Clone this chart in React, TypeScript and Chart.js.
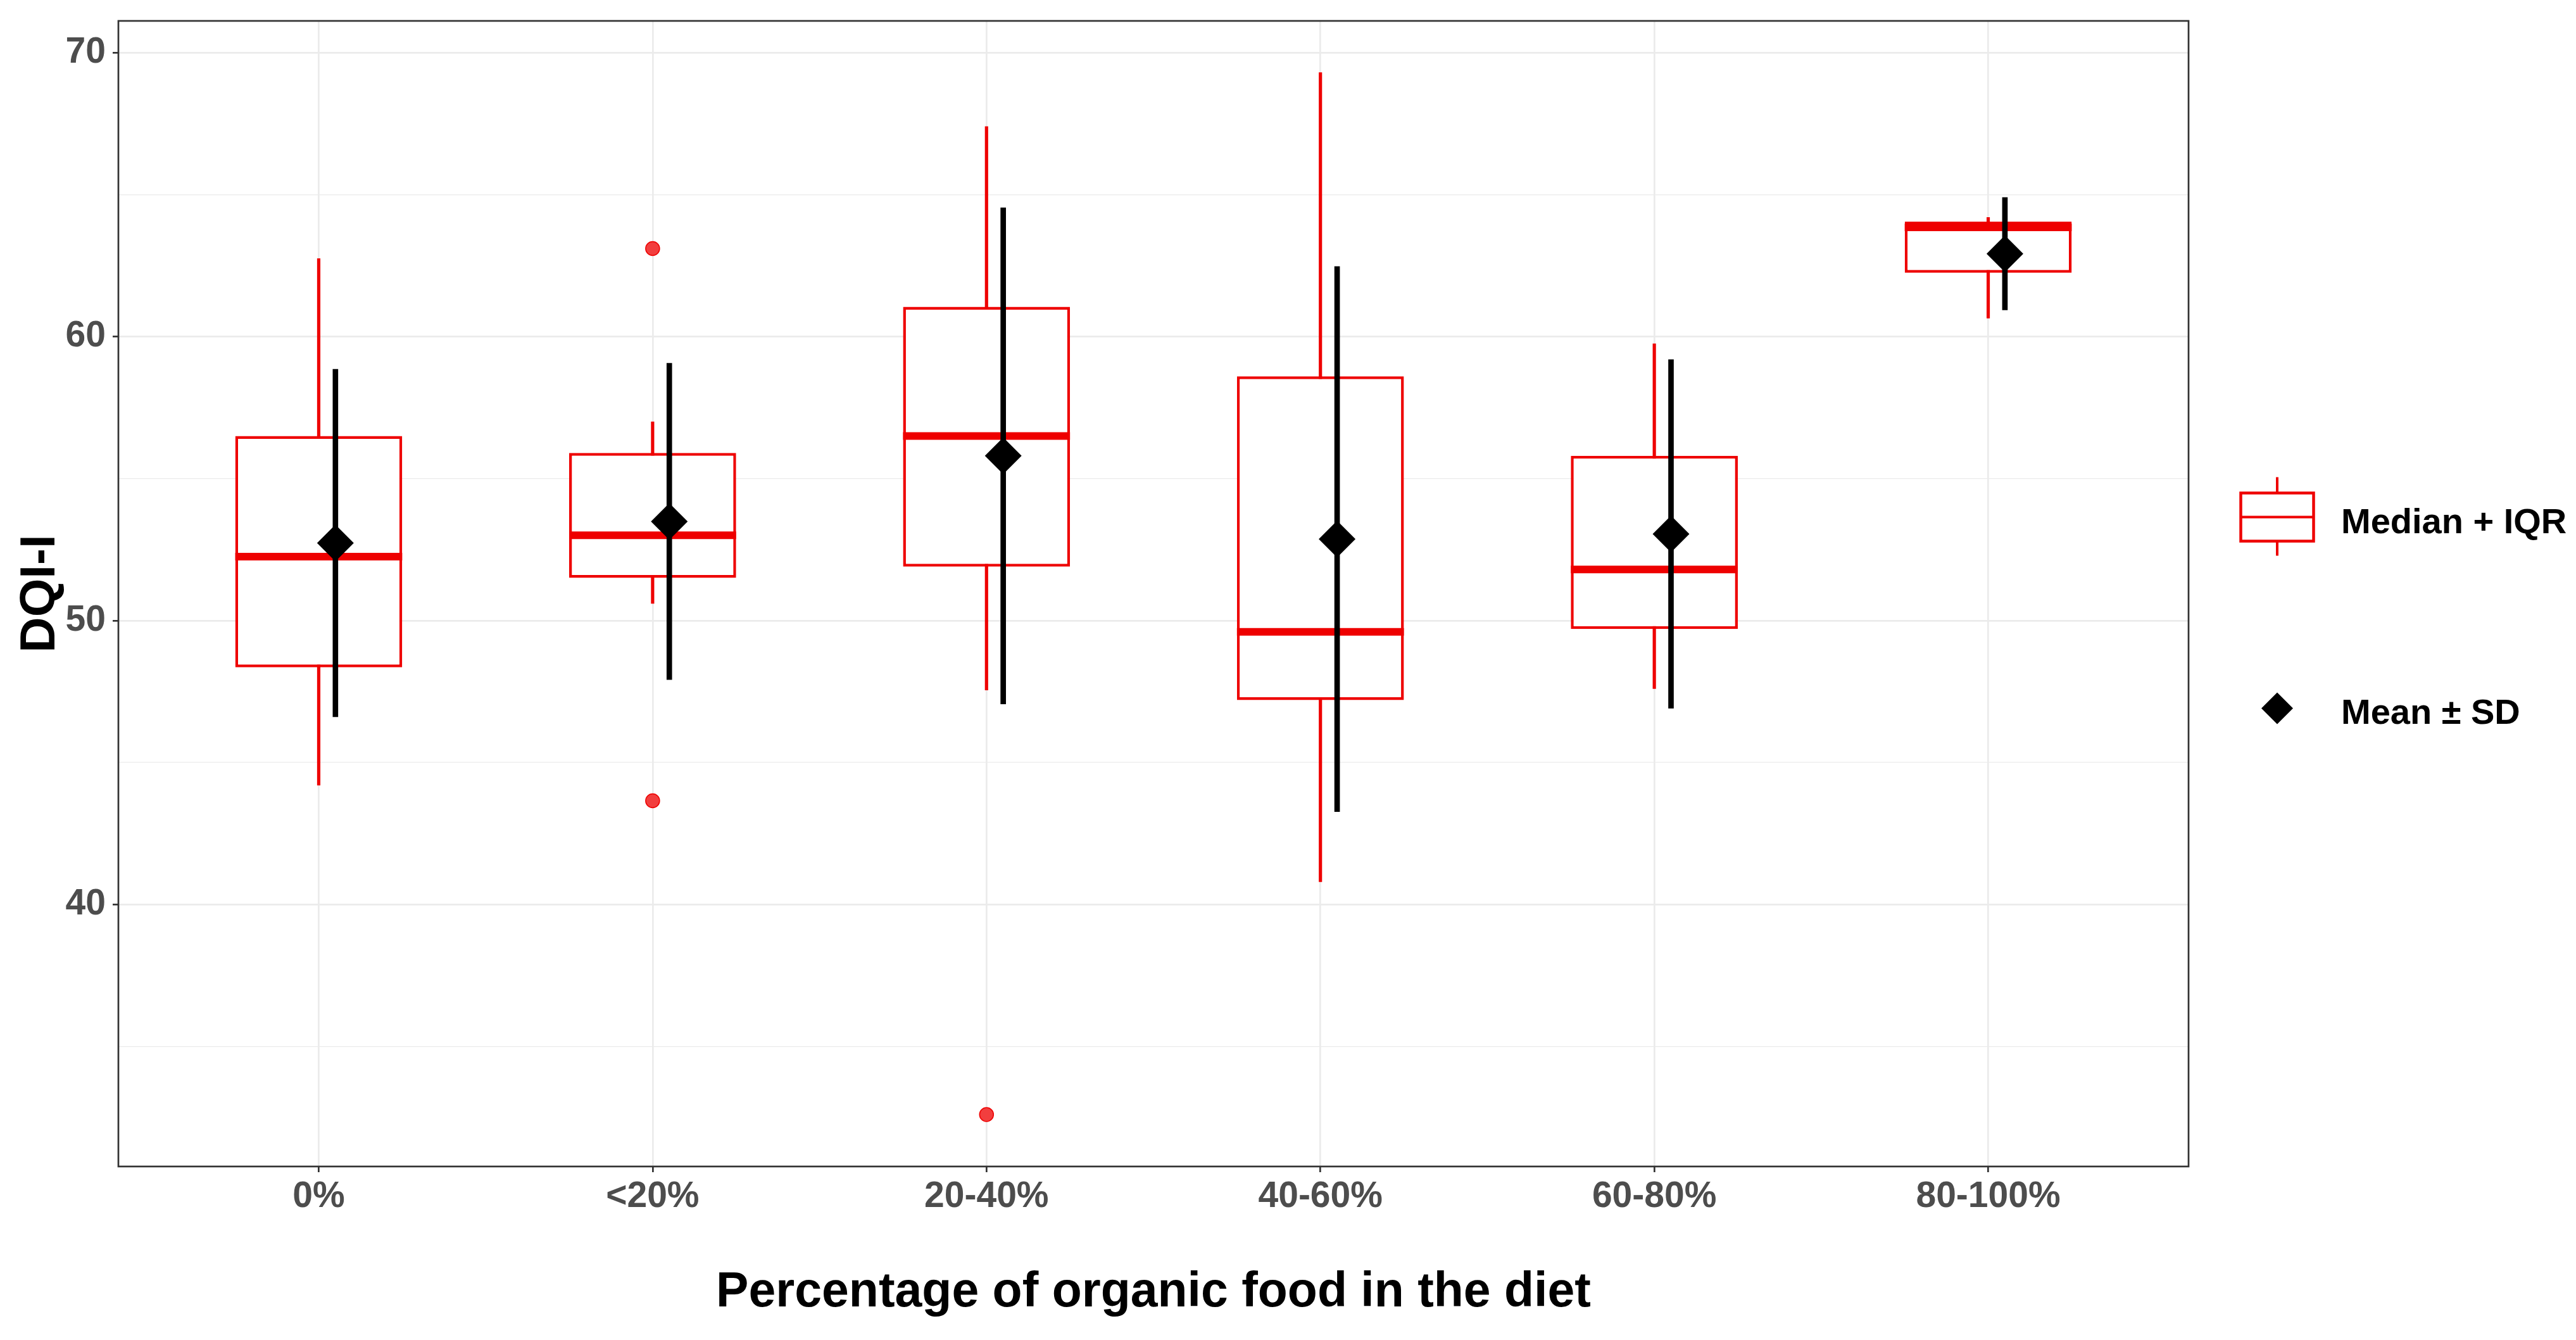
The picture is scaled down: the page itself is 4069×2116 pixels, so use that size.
import React, { useEffect, useRef } from 'react';
import { Chart, registerables } from 'chart.js';

Chart.register(...registerables);

// ---- data ----
const categories = ['0%', '<20%', '20-40%', '40-60%', '60-80%', '80-100%'];
const whiskerLow = [44.2, 50.6, 47.55, 40.8, 47.6, 60.65];
const q1 = [48.35, 51.5, 51.9, 47.2, 49.7, 62.25];
const median = [52.25, 53.0, 56.5, 49.6, 51.8, 63.85];
const q3 = [56.5, 55.9, 61.05, 58.6, 55.8, 64.05];
const whiskerHigh = [62.75, 57.0, 67.4, 69.3, 59.75, 64.2];
const means = [52.73, 53.49, 55.8, 52.87, 53.05, 62.92];
const sds = [6.12, 5.57, 8.74, 9.6, 6.14, 1.98];
const outlierCategory = [1, 1, 2];
const outlierValue = [63.1, 43.65, 32.6];
const yMajorTicks = [40, 50, 60, 70];
const yMinorTicks = [35, 45, 55, 65];
const yRange = [30.77, 71.12];
const xTitle = 'Percentage of organic food in the diet';
const yTitle = 'DQI-I';
const legendLabels = ['Median + IQR', 'Mean \u00B1 SD'];

const RED = '#EE0000';
const FONT = '"Liberation Sans", Arial, Helvetica, sans-serif';
const DODGE = 0.05;
const BOX_WIDTH = 0.5;
const X_EXPAND = 0.6;

export default function App() {
  const ref = useRef<HTMLCanvasElement>(null);

  useEffect(() => {
    document.body.style.margin = '0';
    document.body.style.overflow = 'hidden';
    const canvas = ref.current;
    if (!canvas) return;

    const boxData = categories.map((_, i) => ({ x: i, y: [q1[i], q3[i]] }));
    const whiskerData = categories.map((_, i) => ({ x: i, y: [whiskerLow[i], whiskerHigh[i]] }));
    const medianData = categories.map((_, i) => ({ x: i, y: median[i] }));
    const meanData = categories.map((_, i) => ({ x: i + DODGE, y: means[i] }));
    const sdData = categories.map((_, i) => ({ x: i + DODGE, y: [means[i] - sds[i], means[i] + sds[i]] }));
    const outlierData = outlierCategory.map((c, k) => ({ x: c, y: outlierValue[k] }));

    const halfBox = (chart: any) => {
      const s = chart.scales.x;
      return Math.abs(s.getPixelForValue(BOX_WIDTH / 2) - s.getPixelForValue(0));
    };

    const isMajor = (c: any) => c && c.tick && yMajorTicks.includes(c.tick.value);

    const zeroPad = (s: any) => {
      s.paddingTop = 0;
      s.paddingBottom = 0;
      s.paddingLeft = 0;
      s.paddingRight = 0;
    };

    const panelAndLegend = {
      id: 'panelAndLegend',
      afterDraw(chart: any) {
        const { ctx, chartArea: a } = chart;
        ctx.save();
        // panel border
        ctx.strokeStyle = '#333333';
        ctx.lineWidth = 2.7;
        ctx.strokeRect(a.left, a.top, a.right - a.left, a.bottom - a.top);

        // legend
        const mid = (a.top + a.bottom) / 2;
        const gx = a.right + 140;
        const y1 = mid - 121;
        const y2 = mid + 181;
        const tx = a.right + 241;

        // boxplot glyph
        ctx.strokeStyle = RED;
        ctx.lineWidth = 4.5;
        ctx.strokeRect(gx - 57.5, y1 - 38, 115, 76);
        ctx.lineWidth = 4;
        ctx.beginPath();
        ctx.moveTo(gx - 57.5, y1);
        ctx.lineTo(gx + 57.5, y1);
        ctx.moveTo(gx, y1 - 38);
        ctx.lineTo(gx, y1 - 63);
        ctx.moveTo(gx, y1 + 38);
        ctx.lineTo(gx, y1 + 61);
        ctx.stroke();

        // diamond glyph
        ctx.fillStyle = '#000000';
        ctx.beginPath();
        ctx.moveTo(gx - 25, y2);
        ctx.lineTo(gx, y2 - 25);
        ctx.lineTo(gx + 25, y2);
        ctx.lineTo(gx, y2 + 25);
        ctx.closePath();
        ctx.fill();

        ctx.font = `bold 56px ${FONT}`;
        ctx.textAlign = 'left';
        ctx.textBaseline = 'alphabetic';
        ctx.fillStyle = '#000000';
        ctx.fillText(legendLabels[0], tx, y1 + 25);
        ctx.fillText(legendLabels[1], tx, y2 + 24.5);
        ctx.restore();
      },
    };

    const chart = new Chart(canvas, {
      type: 'bar',
      data: {
        datasets: [
          {
            type: 'scatter',
            label: 'Mean',
            data: meanData,
            xAxisID: 'xMean',
            yAxisID: 'y',
            pointStyle: 'rectRot',
            pointRadius: 29,
            pointHoverRadius: 29,
            pointBackgroundColor: '#000000',
            pointBorderColor: '#000000',
            pointBorderWidth: 0,
          } as any,
          {
            type: 'bar',
            label: 'SD',
            data: sdData,
            xAxisID: 'xMean',
            yAxisID: 'y',
            backgroundColor: '#000000',
            borderWidth: 0,
            barThickness: 8,
            grouped: false,
          } as any,
          {
            type: 'scatter',
            label: 'Outliers',
            data: outlierData,
            xAxisID: 'x',
            yAxisID: 'y',
            pointStyle: 'circle',
            pointRadius: 11,
            pointHoverRadius: 11,
            pointBackgroundColor: 'rgba(242,62,62,1)',
            pointBorderColor: RED,
            pointBorderWidth: 1.5,
          } as any,
          {
            type: 'scatter',
            label: 'Median',
            data: medianData,
            xAxisID: 'x',
            yAxisID: 'y',
            pointStyle: 'line',
            pointRadius: (c: any) => halfBox(c.chart),
            pointHoverRadius: (c: any) => halfBox(c.chart),
            pointBorderColor: RED,
            pointBorderWidth: 12,
          } as any,
          {
            type: 'bar',
            label: 'IQR',
            data: boxData,
            xAxisID: 'x',
            yAxisID: 'y',
            backgroundColor: '#FFFFFF',
            borderColor: RED,
            borderWidth: 4.5,
            borderSkipped: false,
            grouped: false,
            barPercentage: BOX_WIDTH,
            categoryPercentage: 1,
          } as any,
          {
            type: 'bar',
            label: 'Whiskers',
            data: whiskerData,
            xAxisID: 'x',
            yAxisID: 'y',
            backgroundColor: RED,
            borderWidth: 0,
            barThickness: 4.5,
            grouped: false,
          } as any,
        ],
      },
      options: {
        animation: false,
        responsive: false,
        maintainAspectRatio: false,
        devicePixelRatio: 1,
        events: [],
        layout: { padding: { top: 33, right: 612, bottom: 0, left: 0 } },
        plugins: {
          legend: { display: false },
          tooltip: { enabled: false },
          title: { display: false },
        },
        scales: {
          x: {
            type: 'linear',
            position: 'bottom',
            min: -X_EXPAND,
            max: categories.length - 1 + X_EXPAND,
            offset: false,
            afterBuildTicks: (s: any) => {
              s.ticks = categories.map((_, i) => ({ value: i }));
            },
            afterFit: (s: any) => {
              s.height = 274;
              zeroPad(s);
            },
            ticks: {
              autoSkip: false,
              maxRotation: 0,
              minRotation: 0,
              padding: 5,
              color: '#4D4D4D',
              font: { family: FONT, size: 57, weight: 'bold' },
              callback: (v: any) => categories[v as number] ?? '',
            },
            grid: {
              offset: false,
              color: '#EBEBEB',
              lineWidth: 2.7,
              drawTicks: true,
              tickLength: 9,
              tickColor: '#333333',
              tickWidth: 2.7,
            },
            border: { display: false },
            title: {
              display: true,
              text: xTitle,
              color: '#000000',
              font: { family: FONT, size: 77, weight: 'bold' },
              padding: { top: 0, bottom: 28 },
            },
          } as any,
          xMean: {
            type: 'linear',
            axis: 'x',
            display: false,
            min: -X_EXPAND,
            max: categories.length - 1 + X_EXPAND,
            offset: false,
          } as any,
          y: {
            type: 'linear',
            position: 'left',
            min: yRange[0],
            max: yRange[1],
            afterBuildTicks: (s: any) => {
              s.ticks = [...yMinorTicks, ...yMajorTicks]
                .sort((a, b) => a - b)
                .map((v) => ({ value: v }));
            },
            afterFit: (s: any) => {
              s.width = 187;
              zeroPad(s);
            },
            ticks: {
              padding: 11,
              color: '#4D4D4D',
              font: { family: FONT, size: 57, weight: 'bold' },
              callback: (v: any) => (yMajorTicks.includes(v as number) ? String(v) : ''),
            },
            grid: {
              color: '#EBEBEB',
              lineWidth: (c: any) => (isMajor(c) ? 2.7 : 1.35),
              drawTicks: true,
              tickLength: 9,
              tickColor: (c: any) => (isMajor(c) ? '#333333' : 'rgba(0,0,0,0)'),
              tickWidth: (c: any) => (isMajor(c) ? 2.7 : 0),
            },
            border: { display: false },
            title: {
              display: true,
              text: yTitle,
              color: '#000000',
              font: { family: FONT, size: 78, weight: 'bold' },
              padding: { top: 18, bottom: 0 },
            },
          } as any,
        },
      } as any,
      plugins: [panelAndLegend],
    });

    return () => {
      chart.destroy();
    };
  }, []);

  return (
    <div style={{ width: 4069, height: 2116, overflow: 'hidden', background: '#FFFFFF' }}>
      <canvas ref={ref} width={4069} height={2116} style={{ display: 'block', width: 4069, height: 2116 }} />
    </div>
  );
}
